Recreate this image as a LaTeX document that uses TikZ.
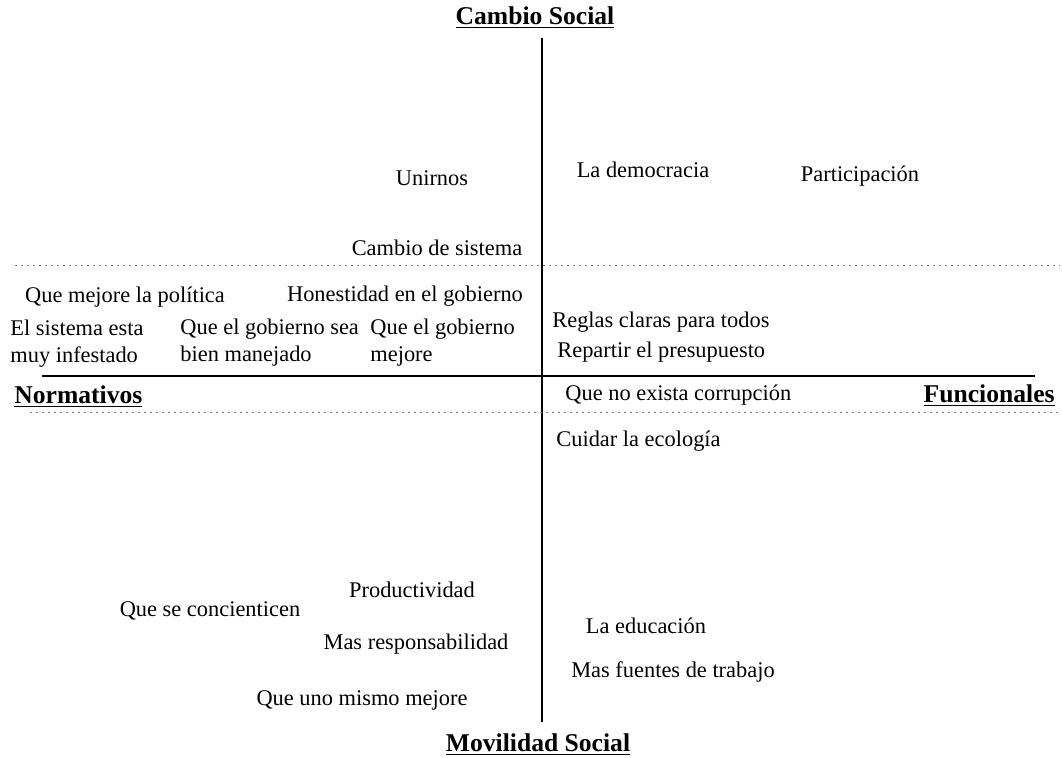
\documentclass[tikz,border=0pt]{standalone}
\usepackage{fontspec}
\setmainfont{Liberation Serif}
\begin{document}
\begin{tikzpicture}[x=0.5pt,y=-0.5pt,
  lbl/.style={inner sep=0pt,font=\fontsize{11.2}{13.4}\selectfont},
  ttl/.style={inner sep=0pt,font=\fontsize{12.8}{15}\selectfont\bfseries},
  axis/.style={line width=1.2pt},
  dots/.style={line width=0.5pt,gray,dash pattern=on 0.8pt off 2.2pt}]
\useasboundingbox (0,0) rectangle (1062,758);
% axes
\coordinate (vt) at (542,38);
\coordinate (vb) at (542,722);
\coordinate (hl) at (42,376);
\coordinate (hr) at (1035,376);
\draw[axis] (vt) -- (vb);
\draw[axis] (hl) -- (hr);
% dotted lines
\coordinate (d1l) at (15,266);
\coordinate (d1r) at (1060,266);
\coordinate (d2l) at (30,413);
\coordinate (d2r) at (1060,413);
\draw[dots] (d1l) -- (d1r);
\draw[dots] (d2l) -- (d2r);
% titles
\node[ttl] (cs) at (535,18) {\underline{Cambio Social}};
\node[ttl] (ms) at (538,745) {\underline{Movilidad Social}};
\node[ttl,anchor=west] (no) at (14,397) {\underline{Normativos}};
\node[ttl,anchor=east] (fu) at (1055,396) {\underline{Funcionales}};
% items
\node[lbl] (u) at (432,178) {Unirnos};
\node[lbl] (ld) at (643,170) {La democracia};
\node[lbl] (pa) at (860,176) {Participación};
\node[lbl] (cds) at (437,248) {Cambio de sistema};
\node[lbl] (qmp) at (125,297) {Que mejore la política};
\node[lbl] (heg) at (405,296) {Honestidad en el gobierno};
\node[lbl,anchor=west,align=left] (esi) at (10,344) {El sistema esta\\muy infestado};
\node[lbl,anchor=west,align=left] (qgs) at (180,343) {Que el gobierno sea\\bien manejado};
\node[lbl,anchor=west,align=left] (qgm) at (370,343) {Que el gobierno\\mejore};
\node[lbl,anchor=west] (rc) at (552,322) {Reglas claras para todos};
\node[lbl,anchor=west] (rp) at (557,352) {Repartir el presupuesto};
\node[lbl,anchor=west] (qnc) at (565,395) {Que no exista corrupción};
\node[lbl,anchor=west] (cle) at (556,441) {Cuidar la ecología};
\node[lbl] (pr) at (412,590) {Productividad};
\node[lbl] (qsc) at (210,611) {Que se concienticen};
\node[lbl] (le) at (646,626) {La educación};
\node[lbl] (mr) at (416,644) {Mas responsabilidad};
\node[lbl] (mft) at (673,672) {Mas fuentes de trabajo};
\node[lbl] (qum) at (362,700) {Que uno mismo mejore};
\end{tikzpicture}
\end{document}
